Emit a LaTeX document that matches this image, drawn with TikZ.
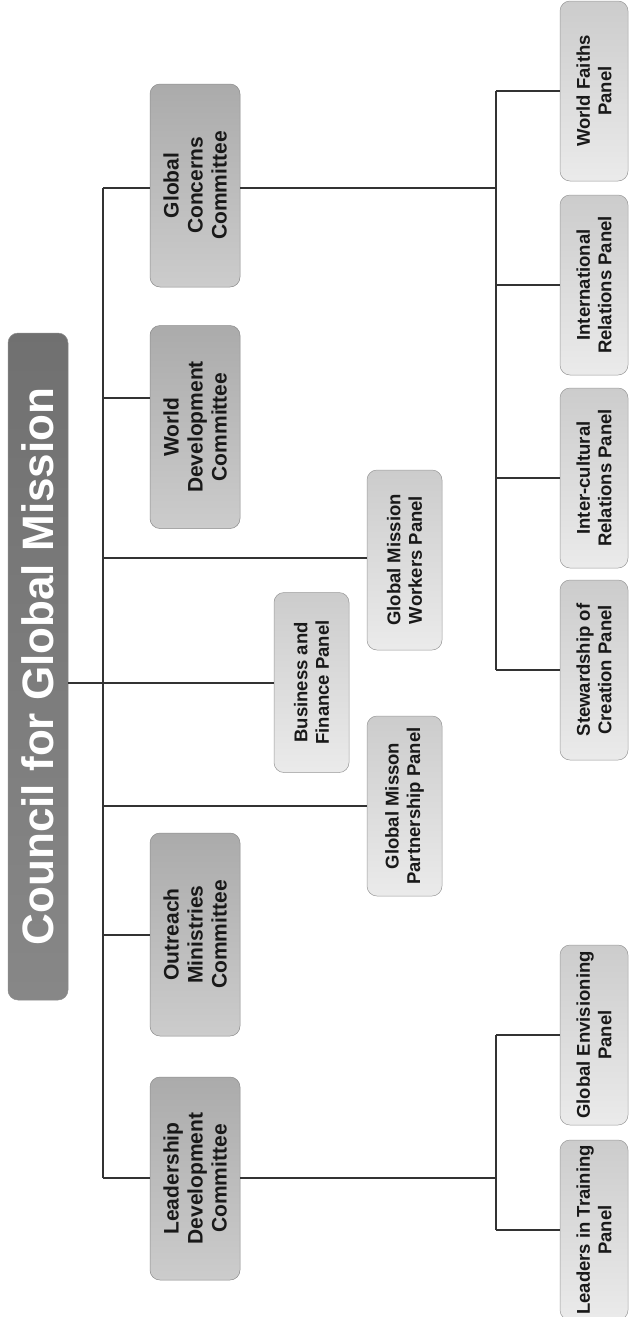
\documentclass[tikz,border=0pt]{standalone}
\usepackage{fontspec}
\setmainfont{Liberation Sans}
\begin{document}
\begin{tikzpicture}[x=1pt,y=1pt,
  conn/.style={draw=black!80, line width=1.2pt},
  rootbox/.style={rotate=90, draw=black!45, line width=0.5pt, rounded corners=10pt,
    top color=black!56, bottom color=black!47, text=white,
    font=\fontsize{44}{50}\selectfont\bfseries, inner sep=0pt, align=center},
  combox/.style={rotate=90, draw=black!45, line width=0.5pt, rounded corners=10pt,
    top color=black!33, bottom color=black!20, text=black!90,
    font=\fontsize{21}{24}\selectfont\bfseries, inner sep=0pt, align=center,
    minimum width=203pt, minimum height=90pt},
  panbox/.style={rotate=90, draw=black!40, line width=0.5pt, rounded corners=10pt,
    top color=black!20, bottom color=black!8, text=black!90,
    font=\fontsize{18.5}{21.5}\selectfont\bfseries, inner sep=0pt, align=center,
    minimum width=180pt, minimum height=75pt},
  botbox/.style={panbox, minimum height=68pt},
]
\useasboundingbox (0,0) rectangle (629,-1317);
\fill[white] (0,0) rectangle (629,-1317);

% root
\node[rootbox, minimum width=667pt, minimum height=60pt] (root) at (38,-666.5) {Council for Global Mission};

% committees
\node[combox] (gc) at (195,-185.5) {Global\\Concerns\\Committee};
\node[combox] (wd) at (195,-427) {World\\Development\\Committee};
\node[combox] (om) at (195,-934.5) {Outreach\\Ministries\\Committee};
\node[combox] (ld) at (195,-1178.5) {Leadership\\Development\\Committee};

% middle panels
\node[panbox] (bf) at (311.5,-682.5) {Business and\\Finance Panel};
\node[panbox] (gmw) at (404.5,-560) {Global Mission\\Workers Panel};
\node[panbox] (gmp) at (404.5,-806) {Global Misson\\Partnership Panel};

% bottom panels
\node[botbox] (wf) at (594,-91) {World Faiths\\Panel};
\node[botbox] (ir) at (594,-285) {International\\Relations Panel};
\node[botbox] (ic) at (594,-478) {Inter-cultural\\Relations Panel};
\node[botbox] (sc) at (594,-670) {Stewardship of\\Creation Panel};
\node[botbox] (ge) at (594,-1035) {Global Envisioning\\Panel};
\node[botbox] (lt) at (594,-1230) {Leaders in Training\\Panel};

% trunk coordinates
\coordinate (tr) at (103,-683);
\coordinate (tgc) at (103,-188);
\coordinate (twd) at (103,-398);
\coordinate (tgmw) at (103,-558);
\coordinate (tgmp) at (103,-806);
\coordinate (tom) at (103,-935);
\coordinate (tld) at (103,-1178);

\draw[conn] (tgc) -- (tld);
\draw[conn] (root.south |- tr) -- (tr);
\draw[conn] (tgc) -- (gc.north |- tgc);
\draw[conn] (twd) -- (wd.north |- twd);
\draw[conn] (tgmw) -- (gmw.north |- tgmw);
\draw[conn] (tr) -- (bf.north |- tr);
\draw[conn] (tgmp) -- (gmp.north |- tgmp);
\draw[conn] (tom) -- (om.north |- tom);
\draw[conn] (tld) -- (ld.north |- tld);

% global concerns sub-tree
\coordinate (sa) at (496,-188);
\coordinate (sa1) at (496,-91);
\coordinate (sa4) at (496,-670);
\draw[conn] (gc.south |- sa) -- (sa);
\draw[conn] (sa1) -- (sa4);
\draw[conn] (sa1) -- (wf.north |- sa1);
\draw[conn] (496,-285) -- (ir.north);
\draw[conn] (496,-478) -- (ic.north);
\draw[conn] (sa4) -- (sc.north);

% leadership sub-tree
\coordinate (sb) at (496,-1178);
\coordinate (sb1) at (496,-1035);
\coordinate (sb2) at (496,-1230);
\draw[conn] (ld.south |- sb) -- (sb);
\draw[conn] (sb1) -- (sb2);
\draw[conn] (sb1) -- (ge.north);
\draw[conn] (sb2) -- (lt.north);
\end{tikzpicture}
\end{document}
